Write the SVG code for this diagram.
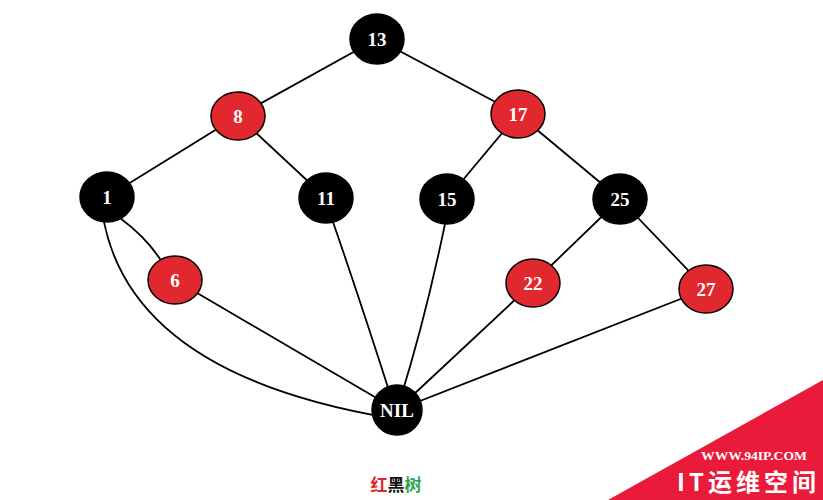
<svg xmlns="http://www.w3.org/2000/svg" width="823" height="500" viewBox="0 0 823 500">
<style>
.b{fill:#000;stroke:#000;stroke-width:1.5}
.r{fill:#e0282e;stroke:#000;stroke-width:1.5}
.t{font-family:"Liberation Serif",serif;font-weight:bold;font-size:19px;fill:#fff;text-anchor:middle;dominant-baseline:central}
.e{stroke:#000;stroke-width:1.8;fill:none}
</style>
<rect width="823" height="500" fill="#fff"/>
<g id="edges">
<line class="e" x1="377" y1="39" x2="238" y2="116"/>
<line class="e" x1="377" y1="39" x2="518" y2="114"/>
<line class="e" x1="238" y1="116" x2="107" y2="197"/>
<line class="e" x1="238" y1="116" x2="326" y2="198"/>
<line class="e" x1="518" y1="114" x2="447" y2="199"/>
<line class="e" x1="518" y1="114" x2="620" y2="199"/>
<line class="e" x1="620" y1="199" x2="533" y2="283"/>
<line class="e" x1="620" y1="199" x2="706" y2="289"/>
<path class="e" d="M120,218 Q147,238 162,262"/>
<path class="e" d="M104,222 Q135,375 390,418"/>
<line class="e" x1="175" y1="280" x2="397" y2="410"/>
<path class="e" d="M333,222 Q360,300 392,400"/>
<path class="e" d="M445,224 Q425,320 400,400"/>
<line class="e" x1="533" y1="283" x2="397" y2="410"/>
<line class="e" x1="706" y1="289" x2="397" y2="410"/>
</g>
<g id="n13"><ellipse class="b" cx="377" cy="39" rx="27" ry="25"/><text class="t" x="377" y="39">13</text></g>
<g id="n8"><ellipse class="r" cx="238" cy="116" rx="27" ry="24"/><text class="t" x="238" y="116">8</text></g>
<g id="n17"><ellipse class="r" cx="518" cy="114" rx="27" ry="24"/><text class="t" x="518" y="114">17</text></g>
<g id="n1"><ellipse class="b" cx="107" cy="197" rx="27" ry="25"/><text class="t" x="107" y="197">1</text></g>
<g id="n11"><ellipse class="b" cx="326" cy="198" rx="27" ry="25"/><text class="t" x="326" y="198">11</text></g>
<g id="n15"><ellipse class="b" cx="447" cy="199" rx="27" ry="25"/><text class="t" x="447" y="199">15</text></g>
<g id="n25"><ellipse class="b" cx="620" cy="199" rx="27" ry="25"/><text class="t" x="620" y="199">25</text></g>
<g id="n6"><ellipse class="r" cx="175" cy="280" rx="27" ry="24"/><text class="t" x="175" y="280">6</text></g>
<g id="n22"><ellipse class="r" cx="533" cy="283" rx="27" ry="24"/><text class="t" x="533" y="283">22</text></g>
<g id="n27"><ellipse class="r" cx="706" cy="289" rx="27" ry="24"/><text class="t" x="706" y="289">27</text></g>
<g id="nNIL"><ellipse class="b" cx="397" cy="410" rx="25" ry="25"/><text class="t" x="397" y="410">NIL</text></g>
<text x="396" y="491" font-family="'Noto Sans CJK SC',sans-serif" font-weight="bold" font-size="17" text-anchor="middle"><tspan fill="#e0282e">红</tspan><tspan fill="#111">黑</tspan><tspan fill="#2fa34c">树</tspan></text>
<g id="watermark">
<polygon points="823,380 823,500 608,500" fill="#ea1a3a"/>
<text x="701" y="460" font-family="'Liberation Serif',serif" font-weight="bold" font-size="12" fill="#fff" textLength="106" lengthAdjust="spacingAndGlyphs">WWW.94IP.COM</text>
<text x="677" y="491" font-family="'Noto Sans CJK SC',sans-serif" font-weight="bold" font-size="24" fill="#fff" textLength="139" lengthAdjust="spacing">IT运维空间</text>
</g>
</svg>
